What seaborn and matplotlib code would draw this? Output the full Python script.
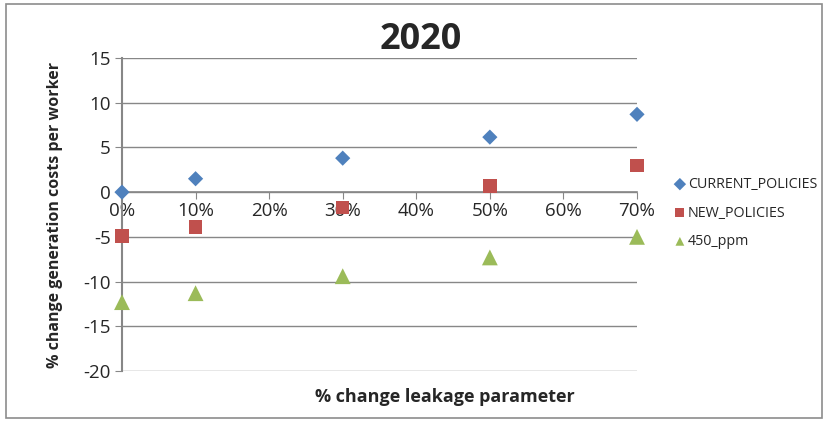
import numpy as np
import pandas as pd
import matplotlib
matplotlib.use("Agg")
import matplotlib.pyplot as plt
import seaborn as sns
from matplotlib.patches import Rectangle

# data
leakage = [0, 10, 30, 50, 70]   # % change leakage parameter
current_policies = [0.0, 1.5, 3.8, 6.15, 8.7]
new_policies = [-4.9, -3.9, -1.7, 0.7, 3.0]
ppm_450 = [-12.3, -11.3, -9.4, -7.3, -5.0]
series_names = ["CURRENT_POLICIES", "NEW_POLICIES", "450_ppm"]
y_ticks = [-20, -15, -10, -5, 0, 5, 10, 15]
x_ticks = [0, 10, 20, 30, 40, 50, 60, 70]

df = pd.DataFrame({
    "leakage": leakage * 3,
    "value": current_policies + new_policies + ppm_450,
    "series": np.repeat(series_names, len(leakage)),
})

sns.set_style("white")
plt.rcParams["font.family"] = ["Open Sans", "DejaVu Sans"]
plt.rcParams["axes.unicode_minus"] = False

fig = plt.figure(figsize=(8.29, 4.22), dpi=100)
ax = fig.add_axes([122 / 829, 1 - 371 / 422, (637 - 122) / 829, (371 - 58) / 422])

palette = {"CURRENT_POLICIES": "#4F81BD", "NEW_POLICIES": "#C0504D", "450_ppm": "#9BBB59"}
markers = {"CURRENT_POLICIES": "D", "NEW_POLICIES": "s", "450_ppm": "^"}
sizes = {"CURRENT_POLICIES": 60, "NEW_POLICIES": 95, "450_ppm": 130}

for name in series_names:
    sub = df[df["series"] == name]
    sns.scatterplot(data=sub, x="leakage", y="value", ax=ax, color=palette[name],
                    marker=markers[name], s=sizes[name], edgecolor="none",
                    label=name, zorder=3, clip_on=False)

grid_c = "#878787"
ax.set_xlim(0, 70)
ax.set_ylim(-20, 15)
ax.set_yticks(y_ticks)
ax.set_xticks(x_ticks)
ax.set_xticklabels([f"{t}%" for t in x_ticks])
ax.yaxis.grid(True, color=grid_c, lw=1)
ax.set_axisbelow(True)

for s in ["top", "right"]:
    ax.spines[s].set_visible(False)
ax.spines["bottom"].set_position(("data", 0))
ax.spines["bottom"].set_color(grid_c)
ax.spines["left"].set_color(grid_c)
ax.spines["left"].set_linewidth(1.5)
ax.spines["bottom"].set_linewidth(1.2)
ax.tick_params(axis="x", direction="out", length=5, color=grid_c, labelsize=13.5, pad=2)
ax.tick_params(axis="y", direction="out", length=5, color=grid_c, labelsize=13.5, pad=3)
ax.tick_params(axis="both", left=True, bottom=True)

ax.set_xlabel("")
ax.set_ylabel("")
fig.text(55 / 829, 1 - 215 / 422, "% change generation costs per worker", rotation=90,
         ha="center", va="center", fontsize=11.5, fontweight="bold")
fig.text(445 / 829, 1 - 397 / 422, "% change leakage parameter",
         ha="center", va="center", fontsize=13, fontweight="bold")
fig.text(421 / 829, 1 - 40 / 422, "2020", ha="center", va="center",
         fontsize=26, fontweight="bold")

leg = ax.legend(loc="center left", bbox_to_anchor=(667 / 829, 1 - 213 / 422),
                bbox_transform=fig.transFigure, frameon=False, fontsize=10.3,
                handletextpad=0.05, labelspacing=0.95, handlelength=1.0, borderaxespad=0)
for h in leg.legend_handles:
    h.set_sizes([40])

fig.patches.append(Rectangle((6 / 829, 4 / 422), (822 - 6) / 829, (418 - 4) / 422,
                             transform=fig.transFigure, fill=False,
                             edgecolor="#8c8c8c", lw=1.2))

fig.savefig("out.png", dpi=100)
